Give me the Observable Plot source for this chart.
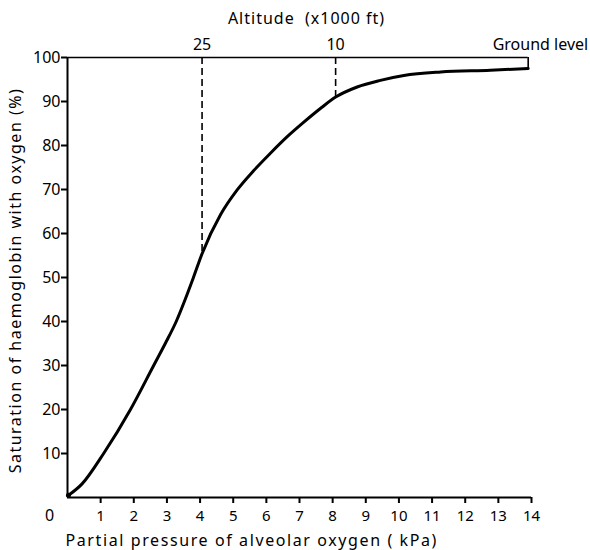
<!DOCTYPE html>
<html>
<head>
<meta charset="utf-8">
<script src="https://cdn.jsdelivr.net/npm/d3@7"></script>
<script src="https://cdn.jsdelivr.net/npm/@observablehq/plot@0.6"></script>
<style>
  html, body { margin: 0; padding: 0; background: #fff; }
</style>
</head>
<body>
<div id="chart"></div>
<script>
// Oxygen dissociation curve
const pressure   = [0.03, 0.44, 1.09, 1.9, 2.6, 2.95, 3.28, 3.55, 3.8, 4.06, 4.62, 5.12, 5.62, 6.13, 6.63, 7.13, 7.63, 8.09, 8.74, 9.44, 10.15, 11.26, 12.76, 13.9];
const saturation = [0.5, 3.1, 10, 20, 30, 35, 40, 45, 50, 55.4, 64.3, 69.9, 74.3, 78.3, 82.0, 85.3, 88.4, 91.0, 93.3, 94.8, 95.9, 96.7, 97.1, 97.5];

// bottom and left ticks
const xTicks = [1, 2, 3, 4, 5, 6, 7, 8, 9, 10, 11, 12, 13, 14];
const yTicks = [10, 20, 30, 40, 50, 60, 70, 80, 90, 100];

// altitude markers on the top line
const altitudeAt     = [4.06, 8.09];
const altitudeLabels = ["25", "10"];
const altitudeMeet   = [55.4, 91.0];
const groundAt = 13.9;
const groundLabel = "Ground level";
const groundSat = 97.5;

const titleTop = "Altitude\u00a0\u00a0(x1000\u00a0ft)";
const titleX = "Partial pressure of alveolar oxygen ( kPa)";
const titleY = "Saturation of haemoglobin with oxygen (%)";

const curve = pressure.map((p, i) => ({p, s: saturation[i]}));
const dashes = altitudeAt.map((a, i) => ({a, top: 100, bottom: altitudeMeet[i], label: altitudeLabels[i]}));

const chart = Plot.plot({
  width: 590,
  height: 550,
  marginLeft: 67,
  marginRight: 59,
  marginTop: 57,
  marginBottom: 53,
  style: {fontFamily: "'Noto Sans', sans-serif", fontSize: "15px", background: "#fff", color: "#000"},
  x: {domain: [0, 14]},
  y: {domain: [0, 100]},
  marks: [
    // axes lines
    Plot.ruleX([0], {y1: 0, y2: 100, stroke: "#000", strokeWidth: 2}),
    Plot.ruleY([0], {x1: 0, x2: 14, stroke: "#000", strokeWidth: 2}),
    Plot.ruleY([100], {x1: 0, x2: groundAt, stroke: "#000", strokeWidth: 1.6}),
    Plot.ruleX([groundAt], {y1: groundSat, y2: 100, stroke: "#000", strokeWidth: 1.6}),
    Plot.axisX({anchor: "bottom", ticks: xTicks, tickSize: 6, tickPadding: 7, strokeWidth: 2, label: null}),
    Plot.axisY({anchor: "left", ticks: yTicks, tickSize: 6, tickPadding: 1, strokeWidth: 2, label: null, fontSize: 16}),
    Plot.text(["0"], {x: 0, y: 0, dx: -18, dy: 23, lineAnchor: "bottom", fontSize: 16}),
    // dashed altitude lines
    Plot.ruleX(dashes, {x: "a", y1: "top", y2: "bottom", stroke: "#000", strokeWidth: 1.6, strokeDasharray: "7,4"}),
    Plot.text(dashes, {x: "a", y: "top", text: "label", dy: -8, lineAnchor: "bottom", fontSize: 16}),
    Plot.text([groundLabel], {x: groundAt, y: 100, dx: 60, dy: -8, textAnchor: "end", lineAnchor: "bottom", fontSize: 16}),
    // curve
    Plot.line(curve, {x: "p", y: "s", curve: "monotone-x", stroke: "#000", strokeWidth: 3}),
    Plot.dot([curve[0]], {x: "p", y: "s", r: 2.5, fill: "#000"}),
    // titles
    Plot.text([titleTop], {frameAnchor: "top", dx: 7, dy: -34, lineAnchor: "bottom", fontSize: 16}),
    Plot.text([titleX], {frameAnchor: "bottom-left", textAnchor: "start", dx: -2, dy: 48, lineAnchor: "bottom", fontSize: 16}),
    Plot.text([titleY], {frameAnchor: "left", textAnchor: "middle", rotate: -90, dx: -52, dy: 3, fontSize: 16})
  ]
});
// looser letter spacing, as in the reference lettering
d3.select(chart).selectAll("text").filter(function () {
  const t = this.textContent;
  return t === titleTop || t === titleX || t === titleY;
}).attr("letter-spacing", function () {
  const t = this.textContent;
  return t === titleX ? "1.6px" : t === titleY ? "1.5px" : "1px";
});
document.getElementById("chart").appendChild(chart);
</script>
</body>
</html>
